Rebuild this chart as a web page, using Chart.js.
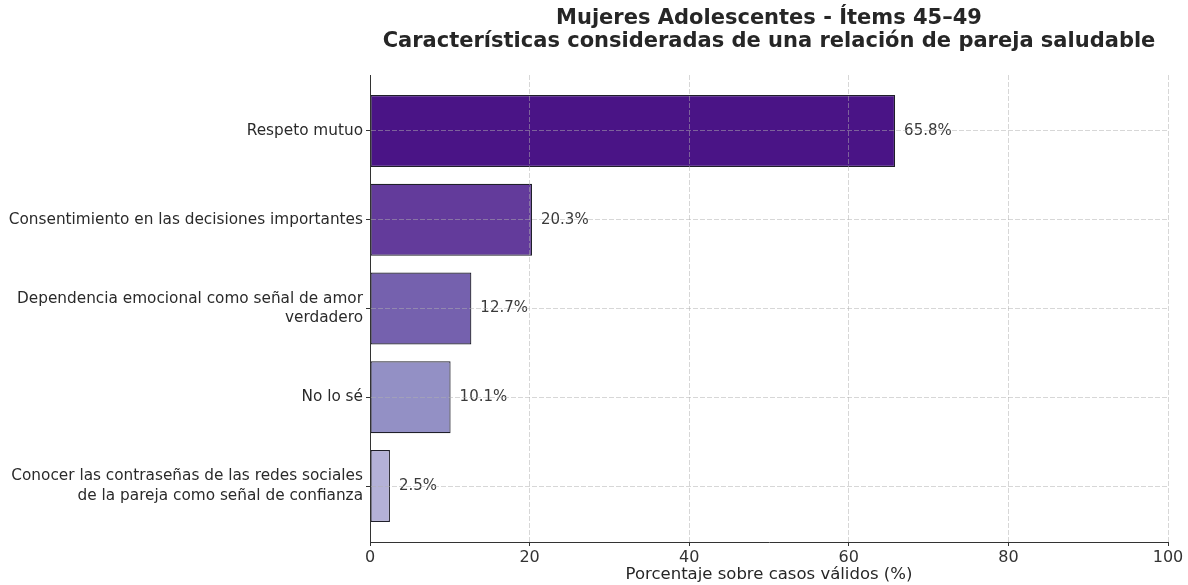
<!DOCTYPE html>
<html>
<head>
<meta charset="utf-8">
<script src="https://cdn.jsdelivr.net/npm/chart.js"></script>
<style>
  body { margin: 0; background: #fff; }
  #wrap { width: 1188px; height: 585px; position: relative; }
</style>
</head>
<body>
<div id="wrap"><canvas id="myChart"></canvas></div>
<script>
// data
const titleLines = ["Mujeres Adolescentes - Ítems 45–49", "Características consideradas de una relación de pareja saludable"];
const categories = [
    "Respeto mutuo",
    "Consentimiento en las decisiones importantes",
    "Dependencia emocional como señal de amor\nverdadero",
    "No lo sé",
    "Conocer las contraseñas de las redes sociales\nde la pareja como señal de confianza"
];
const values = [65.8, 20.3, 12.7, 10.1, 2.5];
const barColors = ["#4a1486", "#633b9b", "#7561ae", "#9390c5", "#b4b1d8"];
const xTicks = [0, 20, 40, 60, 80, 100];
const xTitle = "Porcentaje sobre casos válidos (%)";

Chart.defaults.font.family = "'DejaVu Sans', sans-serif";
Chart.defaults.color = "#262626";

const gridColor = "rgba(175,175,175,0.5)";

// value labels next to each bar
const valueLabels = {
    id: "valueLabels",
    afterDatasetsDraw(chart) {
        const ctx = chart.ctx;
        const meta = chart.getDatasetMeta(0);
        ctx.save();
        ctx.font = "15px 'DejaVu Sans'";
        ctx.fillStyle = "#3a3a3a";
        ctx.textAlign = "left";
        ctx.textBaseline = "middle";
        meta.data.forEach((bar, i) => {
            ctx.fillText(values[i].toFixed(1) + "%", bar.x + 9, bar.y);
        });
        ctx.restore();
    }
};

// title centred over the plot area (like matplotlib)
const plotTitle = {
    id: "plotTitle",
    afterDraw(chart) {
        const ctx = chart.ctx;
        const a = chart.chartArea;
        const cx = (a.left + a.right) / 2;
        ctx.save();
        ctx.font = "bold 21px 'DejaVu Sans'";
        ctx.fillStyle = "#262626";
        ctx.textAlign = "center";
        ctx.textBaseline = "middle";
        ctx.fillText(titleLines[0], cx, 19);
        ctx.fillText(titleLines[1], cx, 42);
        ctx.restore();
    }
};

const ctx = document.getElementById("myChart");

new Chart(ctx, {
    type: "bar",
    data: {
        datasets: [{
            data: values.map((v, i) => ({ x: v, y: i })),
            backgroundColor: barColors,
            borderColor: "#1f1f2a",
            borderWidth: 1.2,
            borderSkipped: false,
            barPercentage: 0.81,
            categoryPercentage: 1
        }]
    },
    options: {
        indexAxis: "y",
        responsive: true,
        maintainAspectRatio: false,
        animation: false,
        layout: { padding: { top: 75, right: 20, left: 0, bottom: 0 } },
        plugins: {
            legend: { display: false },
            tooltip: { enabled: false },
            title: { display: false }
        },
        scales: {
            x: {
                type: "linear",
                min: 0,
                max: 100,
                afterBuildTicks: s => { s.ticks = xTicks.map(v => ({ value: v })); },
                afterFit: s => { s.height = 43; },
                grid: {
                    color: gridColor,
                    z: 1,
                    drawTicks: true,
                    tickLength: 4,
                    tickColor: "#333",
                    tickBorderDash: []
                },
                border: { display: true, color: "#333", width: 1, dash: [5, 2], z: 2 },
                ticks: { font: { size: 16 }, color: "#333", padding: 2 },
                title: {
                    display: true,
                    text: xTitle,
                    font: { size: 16.5 },
                    color: "#262626",
                    padding: { top: 0, bottom: 0 }
                }
            },
            y: {
                type: "linear",
                reverse: true,
                offset: false,
                min: -0.63,
                max: 4.63,
                afterBuildTicks: s => { s.ticks = categories.map((c, i) => ({ value: i })); },
                afterFit: s => { s.width = 370; },
                grid: {
                    color: gridColor,
                    offset: false,
                    z: 1,
                    drawTicks: true,
                    tickLength: 4,
                    tickColor: "#333",
                    tickBorderDash: []
                },
                border: { display: true, color: "#333", width: 1, dash: [5, 2], z: 2 },
                ticks: {
                    font: { size: 15.3, lineHeight: 1.3 },
                    color: "#2a2a2a",
                    padding: 3,
                    callback: v => categories[v] ? categories[v].split("\n") : ""
                }
            }
        }
    },
    plugins: [valueLabels, plotTitle]
});
</script>
</body>
</html>
